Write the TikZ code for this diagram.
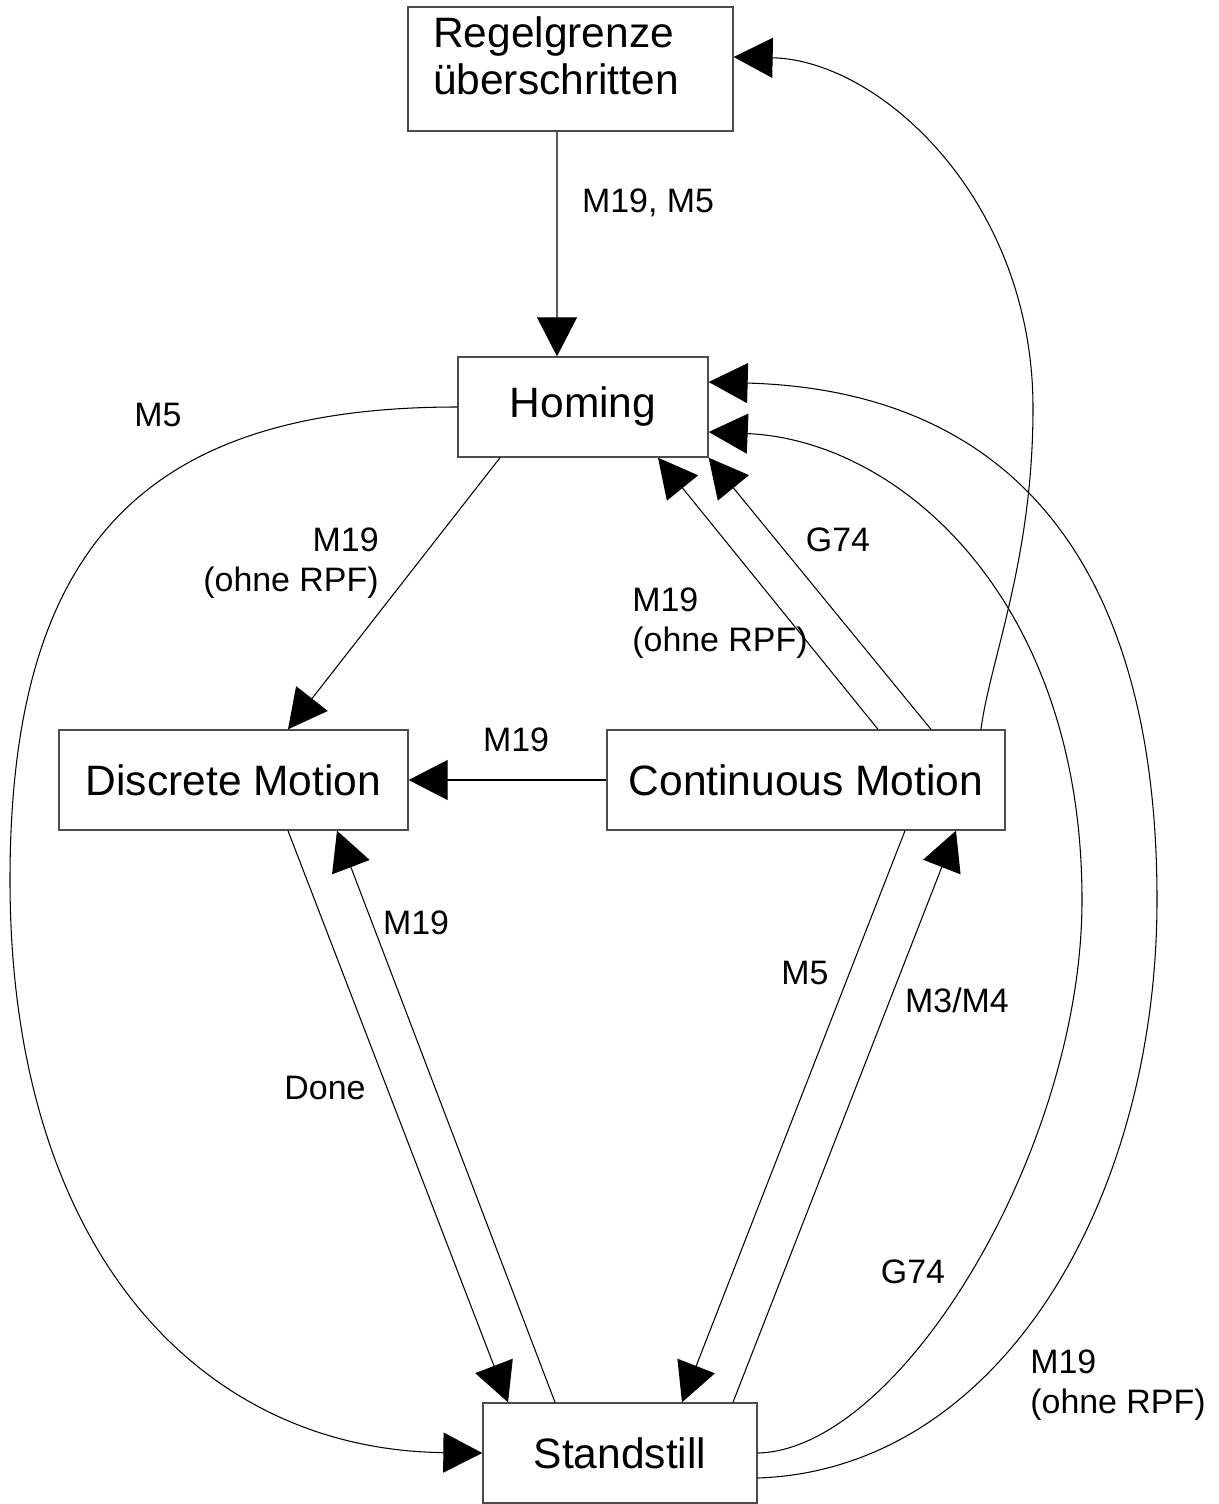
\documentclass[tikz,border=0pt]{standalone}
\usepackage{fontspec}
\setmainfont{Liberation Sans}
\usetikzlibrary{arrows.meta}
\newcommand\statefont{\fontsize{24.2}{26.7}\selectfont}
\newcommand\transfont{\fontsize{19.3}{22.8}\selectfont}
\tikzset{
  statebox/.style={draw=black!70, line width=0.8pt, minimum height=2cm, inner sep=0pt, font=\statefont},
  trans/.style={line width=0.6pt, -{Triangle[length=0.78cm, width=0.8cm]}},
  lbl/.style={font=\transfont, inner sep=0pt}
}
\begin{document}
\begin{tikzpicture}[x=0.02cm, y=-0.02cm]
\useasboundingbox (0,0) rectangle (1219,1504);
% states
\node[statebox, minimum height=2.48cm, text width=5.5cm, inner xsep=0.5cm, align=left] (regel) at (570.5,69) {Regelgrenze\\überschritten\rule[-0.52cm]{0pt}{0.52cm}};
\node[statebox, minimum width=5cm] (home) at (583,407) {Homing};
\node[statebox, minimum width=6.98cm] (disc) at (233.5,780) {Discrete Motion};
\node[statebox, minimum width=7.96cm] (cont) at (806,780) {Continuous Motion};
\node[statebox, minimum width=5.48cm] (still) at (620,1453) {Standstill};

% transitions
\draw[trans] ([xshift=-0.27cm]regel.south) -- ([xshift=-0.52cm]home.north);
\draw[trans] ([xshift=3.5cm]cont.north) .. controls (990,660) and (1033,560) .. (1033,408)
  .. controls (1033,200) and (880,60) .. ([yshift=0.24cm]regel.east);
\draw[trans] ([xshift=-1.66cm]home.south) -- ([xshift=1.09cm]disc.north);
\draw[trans] ([xshift=1.44cm]cont.north) -- ([xshift=1.5cm]home.south);
\draw[trans] ([xshift=2.5cm]cont.north) -- (home.south east);
\draw[trans] (cont.west) -- (disc.east);
\draw[trans] ([xshift=1.09cm]disc.south) -- ([xshift=-2.24cm]still.north);
\draw[trans] ([xshift=-1.3cm]still.north) -- ([xshift=2.07cm]disc.south);
\draw[trans] ([xshift=1.98cm]cont.south) -- ([xshift=1.24cm]still.north);
\draw[trans] ([xshift=2.26cm]still.north) -- ([xshift=3cm]cont.south);
\draw[trans] (home.west) .. controls (150,407) and (10,540) .. (10,880)
  .. controls (10,1250) and (200,1450) .. (still.west);
\draw[trans] (still.east) .. controls (900,1450) and (1082,1150) .. (1082,900)
  .. controls (1082,600) and (900,440) .. ([yshift=-0.5cm]home.east);
\draw[trans] ([yshift=-0.5cm]still.east) .. controls (1000,1470) and (1157,1200) .. (1157,900)
  .. controls (1157,550) and (1000,390) .. ([yshift=0.5cm]home.east);

% labels
\node[lbl] (lblRegel) at (648,203) {M19, M5};
\node[lbl] (lblHomeStill) at (158,415) {M5};
\node[lbl, align=right, anchor=east] (lblHomeDisc) at (379,563) {M19\\(ohne RPF)};
\node[lbl] (lblContHomeB) at (838,540) {G74};
\node[lbl, align=left, anchor=west] (lblContHomeA) at (632,623) {M19\\(ohne RPF)};
\node[lbl] (lblContDisc) at (516,740) {M19};
\node[lbl] (lblStillDisc) at (416,923) {M19};
\node[lbl] (lblDiscStill) at (325,1088) {Done};
\node[lbl] (lblContStill) at (805,973) {M5};
\node[lbl] (lblStillCont) at (957,1000) {M3/M4};
\node[lbl] (lblStillHomeA) at (913,1272) {G74};
\node[lbl, align=left, anchor=west] (lblStillHomeB) at (1030,1385) {M19\\(ohne RPF)};
\end{tikzpicture}
\end{document}
